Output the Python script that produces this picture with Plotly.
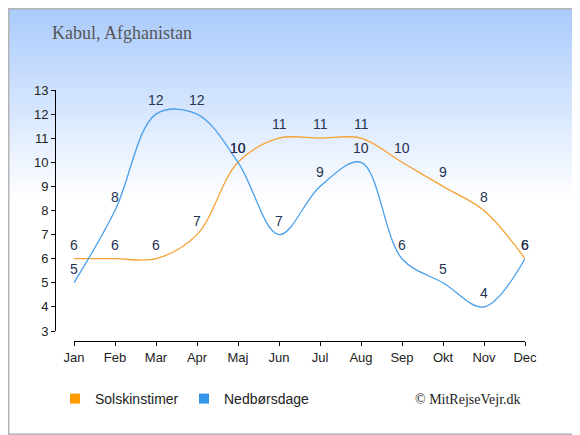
import plotly.graph_objects as go

# chart data
months = ["Jan", "Feb", "Mar", "Apr", "Maj", "Jun", "Jul", "Aug", "Sep", "Okt", "Nov", "Dec"]
sun_hours = [6, 6, 6, 7, 10, 11, 11, 11, 10, 9, 8, 6]
rain_days = [5, 8, 12, 12, 10, 7, 9, 10, 6, 5, 4, 6]
y_ticks = list(range(3, 14))

# the page puts the figure 8px in from the top-left corner
OFF = 8
W, H = 580 - OFF, 435 - OFF
L, R, T, B = 55 - OFF, 55, 90 - OFF, 94
pw, ph = W - L - R, H - T - B


def px_x(p):
    # p is a pixel position in the 580x435 window
    return (p - OFF - L) / pw


def px_y(p):
    return (H - B - (p - OFF)) / ph


orange = "#f7a234"
blue = "#4aa0ea"
x = list(range(len(months)))

fig = go.Figure()

fig.add_trace(go.Scatter(x=x, y=sun_hours, mode="lines", line=dict(color=orange, width=1.3, shape="spline", smoothing=1),
                         showlegend=False, hoverinfo="skip"))
fig.add_trace(go.Scatter(x=x, y=rain_days, mode="lines", line=dict(color=blue, width=1.3, shape="spline", smoothing=1),
                         showlegend=False, hoverinfo="skip"))

# legend entries as squares
fig.add_trace(go.Scatter(x=[None], y=[None], mode="markers", name="Solskinstimer",
                         marker=dict(symbol="square", size=10, color="#ff9900")))
fig.add_trace(go.Scatter(x=[None], y=[None], mode="markers", name="Nedbørsdage",
                         marker=dict(symbol="square", size=10, color="#3396e8")))

annotations = []
for series in (sun_hours, rain_days):
    for i, v in enumerate(series):
        annotations.append(dict(x=i, y=v, text=str(v), showarrow=False, yshift=14,
                                font=dict(family="Liberation Sans, Arial", size=14, color="#263352")))

annotations.append(dict(xref="paper", yref="paper", x=px_x(413), y=px_y(399), xanchor="left", yanchor="middle",
                        text="© MitRejseVejr.dk", showarrow=False,
                        font=dict(family="Liberation Serif, Times New Roman", size=14, color="#222222")))

# background gradient
shapes = []
n = 50
top = (166, 200, 252)
for k in range(n):
    y0 = 200 * k / n
    y1 = 200 * (k + 1) / n + 0.5
    f = (k + 0.5) / n
    c = tuple(round(top[j] + (255 - top[j]) * f) for j in range(3))
    shapes.append(dict(type="rect", xref="paper", yref="paper", layer="below",
                       x0=px_x(OFF), x1=px_x(580), y0=px_y(y1), y1=px_y(max(y0, OFF)),
                       line=dict(width=0), fillcolor="rgb(%d,%d,%d)" % c))
shapes.append(dict(type="rect", xref="paper", yref="paper", layer="above",
                   x0=px_x(OFF + 0.7), x1=px_x(580 - 0.7), y0=px_y(435 - 0.7), y1=px_y(OFF + 0.7),
                   line=dict(color="#b4b4b4", width=1.5)))

fig.update_layout(
    width=W, height=H,
    margin=dict(l=L, r=R, t=T, b=B),
    paper_bgcolor="white",
    plot_bgcolor="rgba(0,0,0,0)",
    font=dict(family="Liberation Sans, Arial", size=13, color="#222222"),
    title=dict(text="Kabul, Afghanistan", x=(52 - OFF) / W, xanchor="left",
               y=1 - (33 - OFF) / H, yanchor="middle",
               font=dict(family="Liberation Serif, Times New Roman", size=18, color="#555555")),
    xaxis=dict(domain=[px_x(74), 1], range=[0, 11], tickvals=x, ticktext=months,
               showline=True, linecolor="black", linewidth=1, ticks="outside", ticklen=4,
               tickcolor="black", showgrid=False, zeroline=False, anchor="free", position=0,
               fixedrange=True),
    yaxis=dict(domain=[px_y(331), 1], range=[3, 13], tickvals=y_ticks,
               showline=True, linecolor="black", linewidth=1, ticks="outside", ticklen=4,
               tickcolor="black", showgrid=False, zeroline=False, anchor="free", position=0,
               fixedrange=True),
    legend=dict(orientation="h", x=px_x(55), y=px_y(399), xanchor="left", yanchor="middle",
                bgcolor="rgba(0,0,0,0)", entrywidth=84, font=dict(size=14, color="#222222")),
    annotations=annotations,
    shapes=shapes,
)

fig.write_html("out.html")
